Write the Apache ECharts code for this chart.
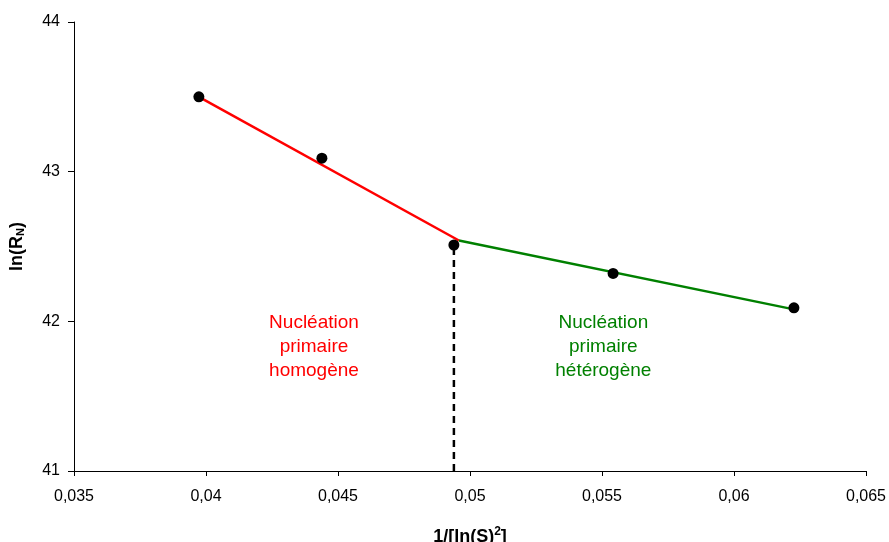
<!DOCTYPE html>
<html><head><meta charset="utf-8">
<script src="https://cdn.jsdelivr.net/npm/echarts@6/dist/echarts.min.js"></script>
<style>html,body{margin:0;padding:0;background:#fff}#c{width:889px;height:542px}</style>
</head><body><div id="c"></div>
<script>
const xPoints = [0.03973, 0.04439, 0.04939, 0.05542, 0.06227];
const yPoints = [43.50, 43.09, 42.51, 42.32, 42.09];
const redFitX = [0.03973, 0.04958];
const redFitY = [43.50, 42.54];
const greenFitX = [0.04958, 0.06227];
const greenFitY = [42.54, 42.08];
const dashX = [0.04939, 0.04939];
const dashY = [42.49, 41];
const xTicks = [0.035, 0.04, 0.045, 0.05, 0.055, 0.06, 0.065];
const yTicks = [41, 42, 43, 44];
const labelTexts = ['Nucléation\nprimaire\nhomogène', 'Nucléation\nprimaire\nhétérogène'];
const labelX = [0.04409, 0.05505];
const labelY = [41.83, 41.83];

const zip = (a, b) => a.map((v, i) => [v, b[i]]);
const chart = echarts.init(document.getElementById('c'));
const font = 'Liberation Sans, Arial, sans-serif';
chart.setOption({
  animation: false,
  grid: {left: 74, right: 23, top: 22, bottom: 71, containLabel: false, outerBoundsMode: 'none'},
  xAxis: {
    type: 'value', min: 0.035, max: 0.065, interval: 0.005,
    splitLine: {show: false},
    axisLine: {lineStyle: {color: '#000', width: 1}},
    axisTick: {lineStyle: {color: '#000'}, length: 5},
    axisLabel: {color: '#000', fontFamily: font, fontSize: 16, margin: 18,
      formatter: v => String(+v.toFixed(3)).replace('.', ',')},
    name: '{a|1/[ln(S)}{s|2}{a|]}', nameLocation: 'middle', nameGap: 55,
    nameTextStyle: {rich: {
      a: {fontFamily: font, fontWeight: 'bold', fontSize: 18, color: '#000', verticalAlign: 'bottom'},
      s: {fontFamily: font, fontWeight: 'bold', fontSize: 12, color: '#000', verticalAlign: 'top', padding: [0,0,8,0]}
    }}
  },
  yAxis: {
    type: 'value', min: 41, max: 44, interval: 1,
    splitLine: {show: false},
    axisLine: {show: true, lineStyle: {color: '#000', width: 1}},
    axisTick: {show: true, lineStyle: {color: '#000'}, length: 6},
    axisLabel: {color: '#000', fontFamily: font, fontSize: 16, margin: 14},
    name: '{a|ln(R}{s|N}{a|)}', nameLocation: 'middle', nameGap: 48,
    nameTextStyle: {rich: {
      a: {fontFamily: font, fontWeight: 'bold', fontSize: 18, color: '#000'},
      s: {fontFamily: font, fontWeight: 'bold', fontSize: 11, color: '#000', padding: [7,0,0,0]}
    }}
  },
  series: [
    {type: 'line', data: zip(redFitX, redFitY), symbol: 'none', lineStyle: {color: '#ff0000', width: 2.5}, z: 2},
    {type: 'line', data: zip(greenFitX, greenFitY), symbol: 'none', lineStyle: {color: '#008000', width: 2.5}, z: 2},
    {type: 'line', data: zip(dashX, dashY), symbol: 'none', lineStyle: {color: '#000', width: 2.5, type: [7, 5]}, z: 2},
    {type: 'scatter', data: zip(xPoints, yPoints), symbol: 'circle', symbolSize: 11,
      itemStyle: {color: '#000', opacity: 1}, z: 5},
    {type: 'scatter', itemStyle: {opacity: 1},
      data: zip(labelX, labelY).map((p, i) => ({value: p,
        label: {show: true, position: 'inside', formatter: labelTexts[i], opacity: 1,
          color: i === 0 ? '#ff0000' : '#008000', fontFamily: font, fontSize: 19, lineHeight: 24, align: 'center'}})),
      symbolSize: 0, silent: true, z: 6}
  ]
});
</script></body></html>
